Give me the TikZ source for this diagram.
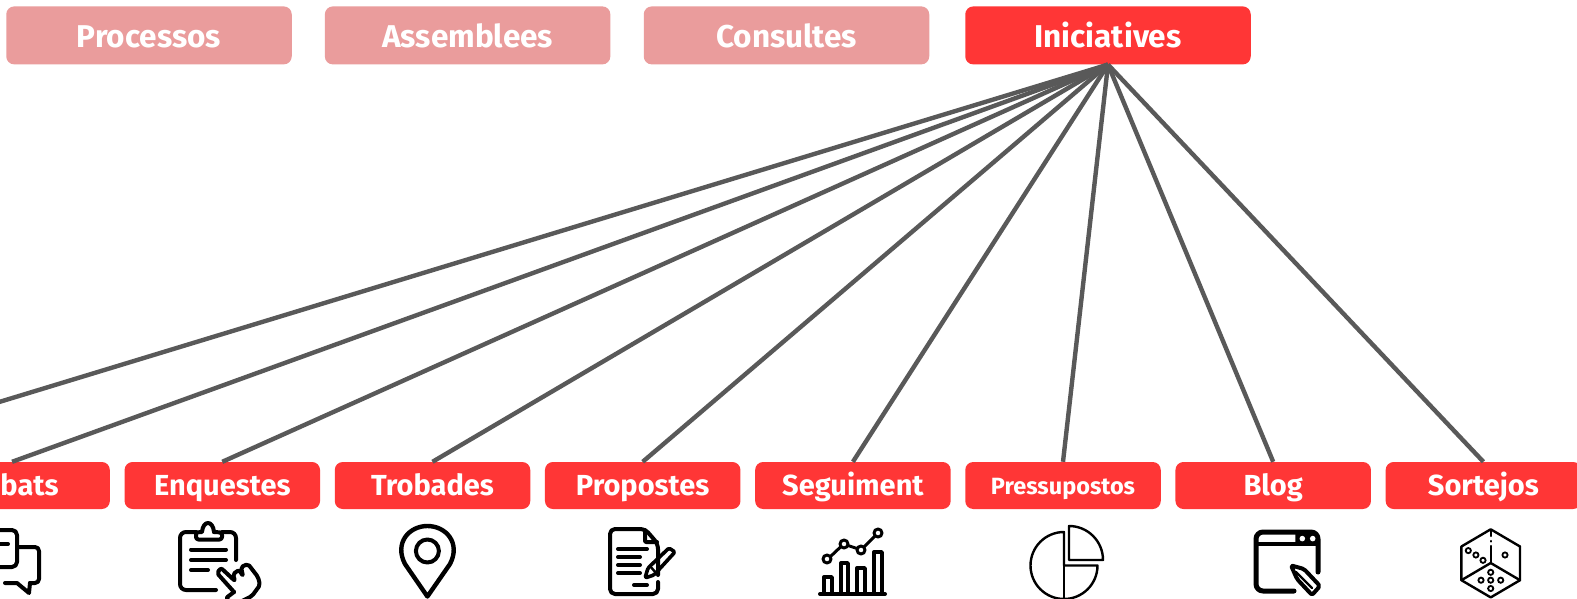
\documentclass[tikz,border=0pt]{standalone}
\usepackage{fontspec}
\setmainfont{Fira Sans}
\definecolor{hot}{HTML}{FF3636}
\definecolor{faded}{HTML}{EA9C9C}
\definecolor{wire}{HTML}{595959}
\tikzset{
 topbox/.style={rounded corners=8pt,minimum width=285.5pt,minimum height=58pt,text=white,inner sep=0pt,text height=24.5pt,text depth=0pt,font=\fontsize{31.5}{31.5}\selectfont\bfseries},
 subbox/.style={fill=hot,rounded corners=8pt,minimum width=195.5pt,minimum height=47pt,text=white,inner sep=0pt,text height=20pt,text depth=0pt,font=\fontsize{29}{29}\selectfont\bfseries},
 link/.style={draw=wire,line width=4.4pt},
 icon/.style={draw=black,line width=4pt,line cap=round,line join=round},
 fine/.style={draw=black,line width=2.4pt,line cap=round,line join=round},
}
\begin{document}
\begin{tikzpicture}[x=1pt,y=-1pt]
\useasboundingbox (0,0) rectangle (1577,599);
\clip (0,0) rectangle (1577,599);
\fill[white] (0,0) rectangle (1577,599);
\node[topbox,fill=faded] (proc) at (149,35.4) {Processos};
\node[topbox,fill=faded] (ass) at (467.6,35.4) {Assemblees};
\node[topbox,fill=faded] (cons) at (786.5,35.4) {Consultes};
\node[topbox,fill=hot] (ini) at (1108,35.4) {Iniciatives};
\node[subbox] (deb) at (12.1,485.5) {Debats};
\node[subbox] (enq) at (222.3,485.5) {Enquestes};
\node[subbox] (tro) at (432.5,485.5) {Trobades};
\node[subbox] (pro) at (642.7,485.5) {Propostes};
\node[subbox] (seg) at (852.9,485.5) {Seguiment};
\node[subbox,font=\fontsize{23.5}{23.5}\selectfont\bfseries,text height=17.5pt] (pre) at (1063,485.5) {Pressupostos};
\node[subbox] (blo) at (1273.2,485.5) {Blog};
\node[subbox] (sor) at (1483.4,485.5) {Sortejos};
\coordinate (off) at (-198,462);
\draw[link] (ini.south) -- (off);
\foreach \t in {deb,enq,tro,pro,seg,pre,blo,sor}{
  \draw[link] (ini.south) -- (\t.north);
}
% Debats icon
\draw[icon,rounded corners=5pt] (-6,530) -- (17,530) -- (17,567) -- (-6,567);
\draw[icon] (-2,544) -- (8,544);
\draw[icon,rounded corners=4pt] (18,547) -- (39,547) -- (39,583) -- (30,583);
\draw[icon] (30,583) -- (29,593) -- (17,583) -- (5,583);
% Enquestes icon
\draw[icon,rounded corners=6pt] (236,560) -- (236,532) -- (222,532);
\draw[icon,rounded corners=6pt] (196,532) -- (180,532) -- (180,590) -- (216,590);
\draw[icon,rounded corners=2.5pt] (196,532.5) -- (196,539.5) -- (222,539.5) -- (222,532.5) -- (214,532);
\draw[icon] (214,532) .. controls (213,520) and (203,520) .. (202,532) -- (196,532.5);
\draw[icon] (191,549.5) -- (226,549.5) (191,560) -- (226,560) (191,570) -- (208,570);
\draw[icon,rounded corners=2pt] (234,592) -- (217,573) -- (221,568) -- (235,581) -- (233,574) -- (239,570) -- (243,576) -- (241,567) -- (248,564) -- (258,577) -- (260,585) -- (252,596) -- (240,602);
\draw[icon,rounded corners=2pt] (234,592) -- (226,598) -- (232,604);
% Trobades icon
\draw[icon,line width=4.4pt] (427.4,596.5) -- (405,564) .. controls (394,543) and (409,526) .. (427.4,526) .. controls (446,526) and (461,543) .. (450,564) -- cycle;
\draw[icon] (427.4,551) circle[radius=11.5pt];
% Propostes icon
\draw[icon,rounded corners=5pt] (658,575) -- (658,544) -- (645,529) -- (610,529) -- (610,594) -- (658,594) -- (658,582);
\draw[icon,rounded corners=1pt] (645,530) -- (645,542) -- (657,542);
\draw[icon] (618,549) -- (647,549) (618,557) -- (640,557) (618,565) -- (640,565) (618,573) -- (640,573) (634,585) -- (647,585);
\draw[icon,rounded corners=1.5pt,line width=3.6pt] (645,578) -- (648,568) -- (669,548) -- (675,552) -- (654,575) -- cycle;
\draw[icon,line width=2.4pt] (650,566) -- (656,573);
% Seguiment icon
\draw[icon] (820,594) -- (885,594);
\draw[icon,line width=3.4pt] (824,594) -- (824,577) -- (832,577) -- (832,594);
\draw[icon,line width=3.4pt] (841,594) -- (841,563) -- (848,563) -- (848,594);
\draw[icon,line width=3.4pt] (857,594) -- (857,568) -- (865,568) -- (865,594);
\draw[icon,line width=3.4pt] (874,594) -- (874,552) -- (882,552) -- (882,594);
\draw[fine,line width=3pt] (827,559) circle[radius=4pt] (844,544) circle[radius=4pt] (861,550) circle[radius=4pt] (878,533) circle[radius=4pt];
\draw[fine,line width=3pt] (830.5,556.5) -- (840.5,547) (848,545.5) -- (857,548.5) (864,547) -- (875,536);
% Pressupostos icon
\draw[fine] (1064,532) arc[start angle=90,end angle=270,radius=33.5pt] arc[start angle=270,end angle=360,radius=33.5pt] -- (1064,565.5) -- cycle;
\draw[fine] (1064,565.5) -- (1064,599);
\draw[fine] (1069,526) arc[start angle=90,end angle=0,radius=34pt] -- (1069,560) -- cycle;
% Blog icon
\draw[icon,line width=5pt,rounded corners=7pt] (1318,572) -- (1318,532) -- (1256,532) -- (1256,591) -- (1294,591);
\draw[icon,line width=4pt] (1258,543.5) -- (1317,543.5);
\fill[rounded corners=1pt] (1295.4,533) rectangle (1317,545);
\fill[white] (1302.3,538.6) circle[radius=2.8pt] (1312.7,538.6) circle[radius=2.8pt];
\draw[icon,rounded corners=2pt] (1291,565.4) -- (1304,569) -- (1320,586) -- (1312,595) -- (1297,579) -- cycle;
\draw[icon,line width=2.4pt] (1296,572) -- (1312,588);
% Sortejos icon
\draw[fine] (1490.7,529.3) -- (1520,546.5) -- (1520,580.2) -- (1490.7,597.4) -- (1461.4,580.2) -- (1461.4,546.5) -- cycle;
\draw[fine] (1461.4,580.2) -- (1490.7,563) -- (1520,580.2);
\draw[fine] (1490.7,563) -- (1490.7,546) (1490.7,541) -- (1490.7,541.5) (1490.7,530) -- (1490.7,536);
\foreach \q/\r in {1468.3/550.6,1475.9/555,1483/560.3,1505/555,1490.7/572.3,1481/580.2,1490.7/580.2,1500.7/580.2,1490.7/588.5}{
  \draw[black,line width=1.8pt] (\q,\r) circle[radius=2.6pt];
}
\end{tikzpicture}
\end{document}
